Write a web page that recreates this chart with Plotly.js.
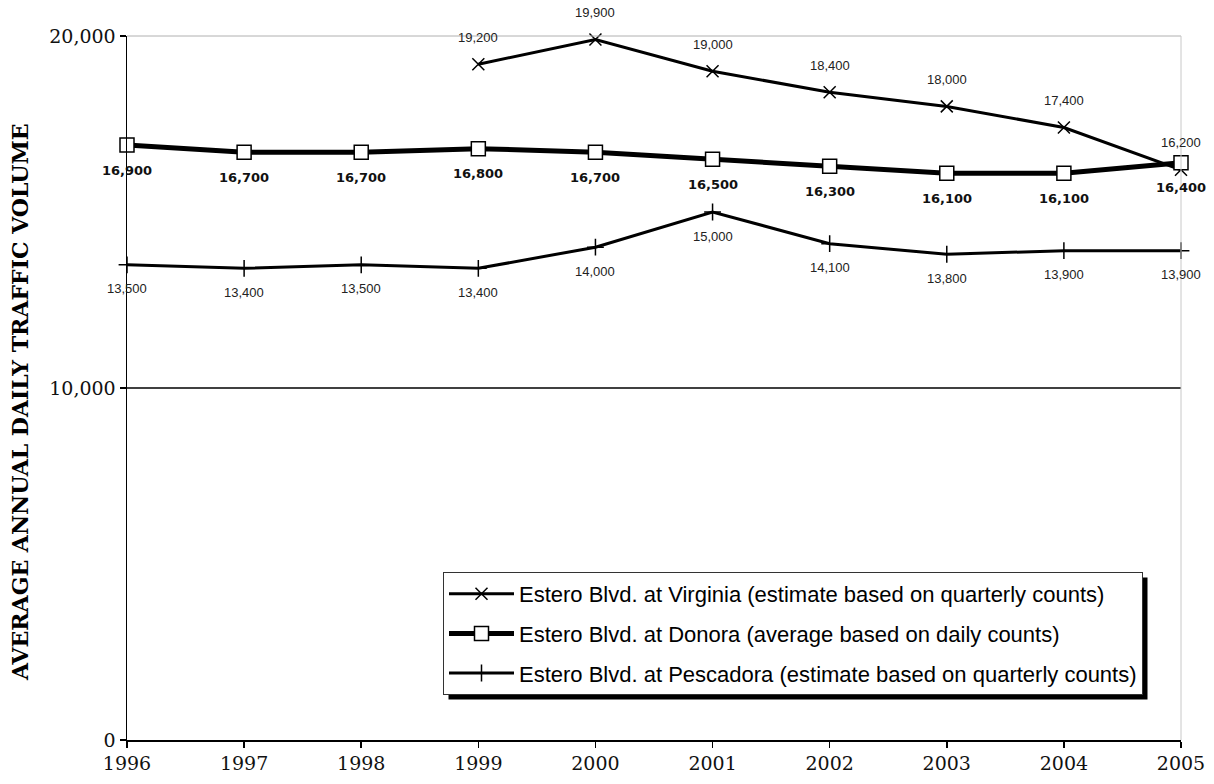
<!DOCTYPE html>
<html>
<head>
<meta charset="utf-8">
<script src="https://cdn.plot.ly/plotly-3.0.1.min.js"></script>
<style>
  html, body { margin: 0; padding: 0; background: #ffffff; }
  #chart { width: 1214px; height: 784px; }
</style>
</head>
<body>
<div id="chart"></div>
<script>
// ---- data ----
const years = [1996, 1997, 1998, 1999, 2000, 2001, 2002, 2003, 2004, 2005];
const virginia = [null, null, null, 19200, 19900, 19000, 18400, 18000, 17400, 16200];
const donora = [16900, 16700, 16700, 16800, 16700, 16500, 16300, 16100, 16100, 16400];
const pescadora = [13500, 13400, 13500, 13400, 14000, 15000, 14100, 13800, 13900, 13900];
const seriesNames = [
  "Estero Blvd. at Virginia (estimate based on quarterly counts)",
  "Estero Blvd. at Donora (average based on daily counts)",
  "Estero Blvd. at Pescadora (estimate based on quarterly counts)"
];
const yTicks = [0, 10000, 20000];
const yTickText = ["0", "10,000", "20,000"];
const yTitle = "AVERAGE ANNUAL DAILY TRAFFIC VOLUME";

// ---- helpers ----
const fmt = v => v.toLocaleString("en-US");
function labels(values, shift, font) {
  const out = [];
  values.forEach((v, i) => {
    if (v === null) return;
    out.push({x: years[i], y: v, text: fmt(v), showarrow: false,
      xref: "x", yref: "y", yshift: shift, font: font});
  });
  return out;
}
const plainFont = {family: "Liberation Sans, Arial, sans-serif", size: 13, color: "#222"};
const boldFont = {family: "DejaVu Sans, sans-serif", size: 13, color: "#111", weight: "bold"};

const traces = [
  {x: years, y: virginia, name: seriesNames[0], mode: "lines+markers", legendgroup: "a",
   line: {color: "#000", width: 3}, cliponaxis: false,
   marker: {symbol: "x-thin-open", size: 12, color: "#000", line: {color: "#000", width: 1.5}}},
  {x: years, y: donora, name: seriesNames[1], mode: "lines+markers", legendgroup: "b",
   line: {color: "#000", width: 5}, cliponaxis: false,
   marker: {symbol: "square", size: 14, color: "#fff", line: {color: "#000", width: 1.5}}},
  {x: years, y: pescadora, name: seriesNames[2], mode: "lines+markers", legendgroup: "c",
   line: {color: "#000", width: 3}, cliponaxis: false,
   marker: {symbol: "cross-thin-open", size: 12, color: "#000", line: {color: "#000", width: 1.5}}}
];

const W = 1054, H = 704, L = 127, T = 36;
const px = x => (x - L) / W;
const py = y => (T + H - y) / H;

const annotations = []
  .concat(labels(virginia, 27, plainFont))
  .concat(labels(donora, -25, boldFont))
  .concat(labels(pescadora, -24, plainFont));
annotations.push({text: yTitle, showarrow: false, xref: "paper", yref: "paper",
  x: px(20), y: py(402), textangle: -90, xanchor: "center", yanchor: "middle",
  font: {family: "DejaVu Serif, serif", size: 22, color: "#000", weight: "bold"}});

const layout = {
  width: 1214, height: 784,
  margin: {l: 127, r: 33, t: 36, b: 44},
  paper_bgcolor: "#fff", plot_bgcolor: "#fff",
  showlegend: true,
  xaxis: {
    range: [1996, 2005], tickvals: years, ticktext: years.map(String),
    showgrid: false, zeroline: false, showline: true, linecolor: "#000", linewidth: 1.5,
    ticks: "outside", ticklen: 6, tickcolor: "#000", tickwidth: 1.5,
    tickfont: {family: "DejaVu Serif, serif", size: 19, color: "#111"},
    automargin: false, fixedrange: true
  },
  yaxis: {
    range: [0, 20000], tickvals: yTicks, ticktext: yTickText,
    showgrid: false, zeroline: false, showline: true, linecolor: "#000", linewidth: 1.5,
    ticks: "outside", ticklen: 6, tickcolor: "#000", tickwidth: 1.5,
    tickfont: {family: "DejaVu Serif, serif", size: 19, color: "#111"},
    automargin: false, fixedrange: true
  },
  legend: {
    x: px(443), y: py(572), xanchor: "left", yanchor: "top",
    bgcolor: "#fff", bordercolor: "#333", borderwidth: 1,
    font: {family: "Liberation Sans, Arial, sans-serif", size: 22, color: "#000"},
    tracegroupgap: 8, itemwidth: 65
  },
  shapes: [
    {type: "line", xref: "paper", yref: "y", x0: 0, x1: 1, y0: 10000, y1: 10000,
     line: {color: "#000", width: 1.5}},
    {type: "line", xref: "paper", yref: "paper", x0: 0, x1: 1, y0: 1, y1: 1,
     line: {color: "#b0b0b0", width: 1}},
    {type: "line", xref: "paper", yref: "paper", x0: 1, x1: 1, y0: 0, y1: 1,
     line: {color: "#c8c8c8", width: 1}},
    {type: "rect", xref: "paper", yref: "paper", x0: px(448), x1: px(1157), y0: py(706), y1: py(577),
     fillcolor: "#000", line: {width: 0}}
  ],
  annotations: annotations
};

Plotly.newPlot("chart", traces, layout, {displayModeBar: false, staticPlot: true}).then(gd => {
  // fit the drop shadow to the legend box actually drawn
  const bg = gd.querySelector(".legend .bg");
  if (!bg) return;
  const r = bg.getBoundingClientRect();
  const host = gd.getBoundingClientRect();
  const left = r.left - host.left, top = r.top - host.top;
  return Plotly.relayout(gd, {
    "shapes[3].x0": px(left + 5), "shapes[3].x1": px(left + r.width + 5),
    "shapes[3].y0": py(top + r.height + 5), "shapes[3].y1": py(top + 5)
  });
});
</script>
</body>
</html>
